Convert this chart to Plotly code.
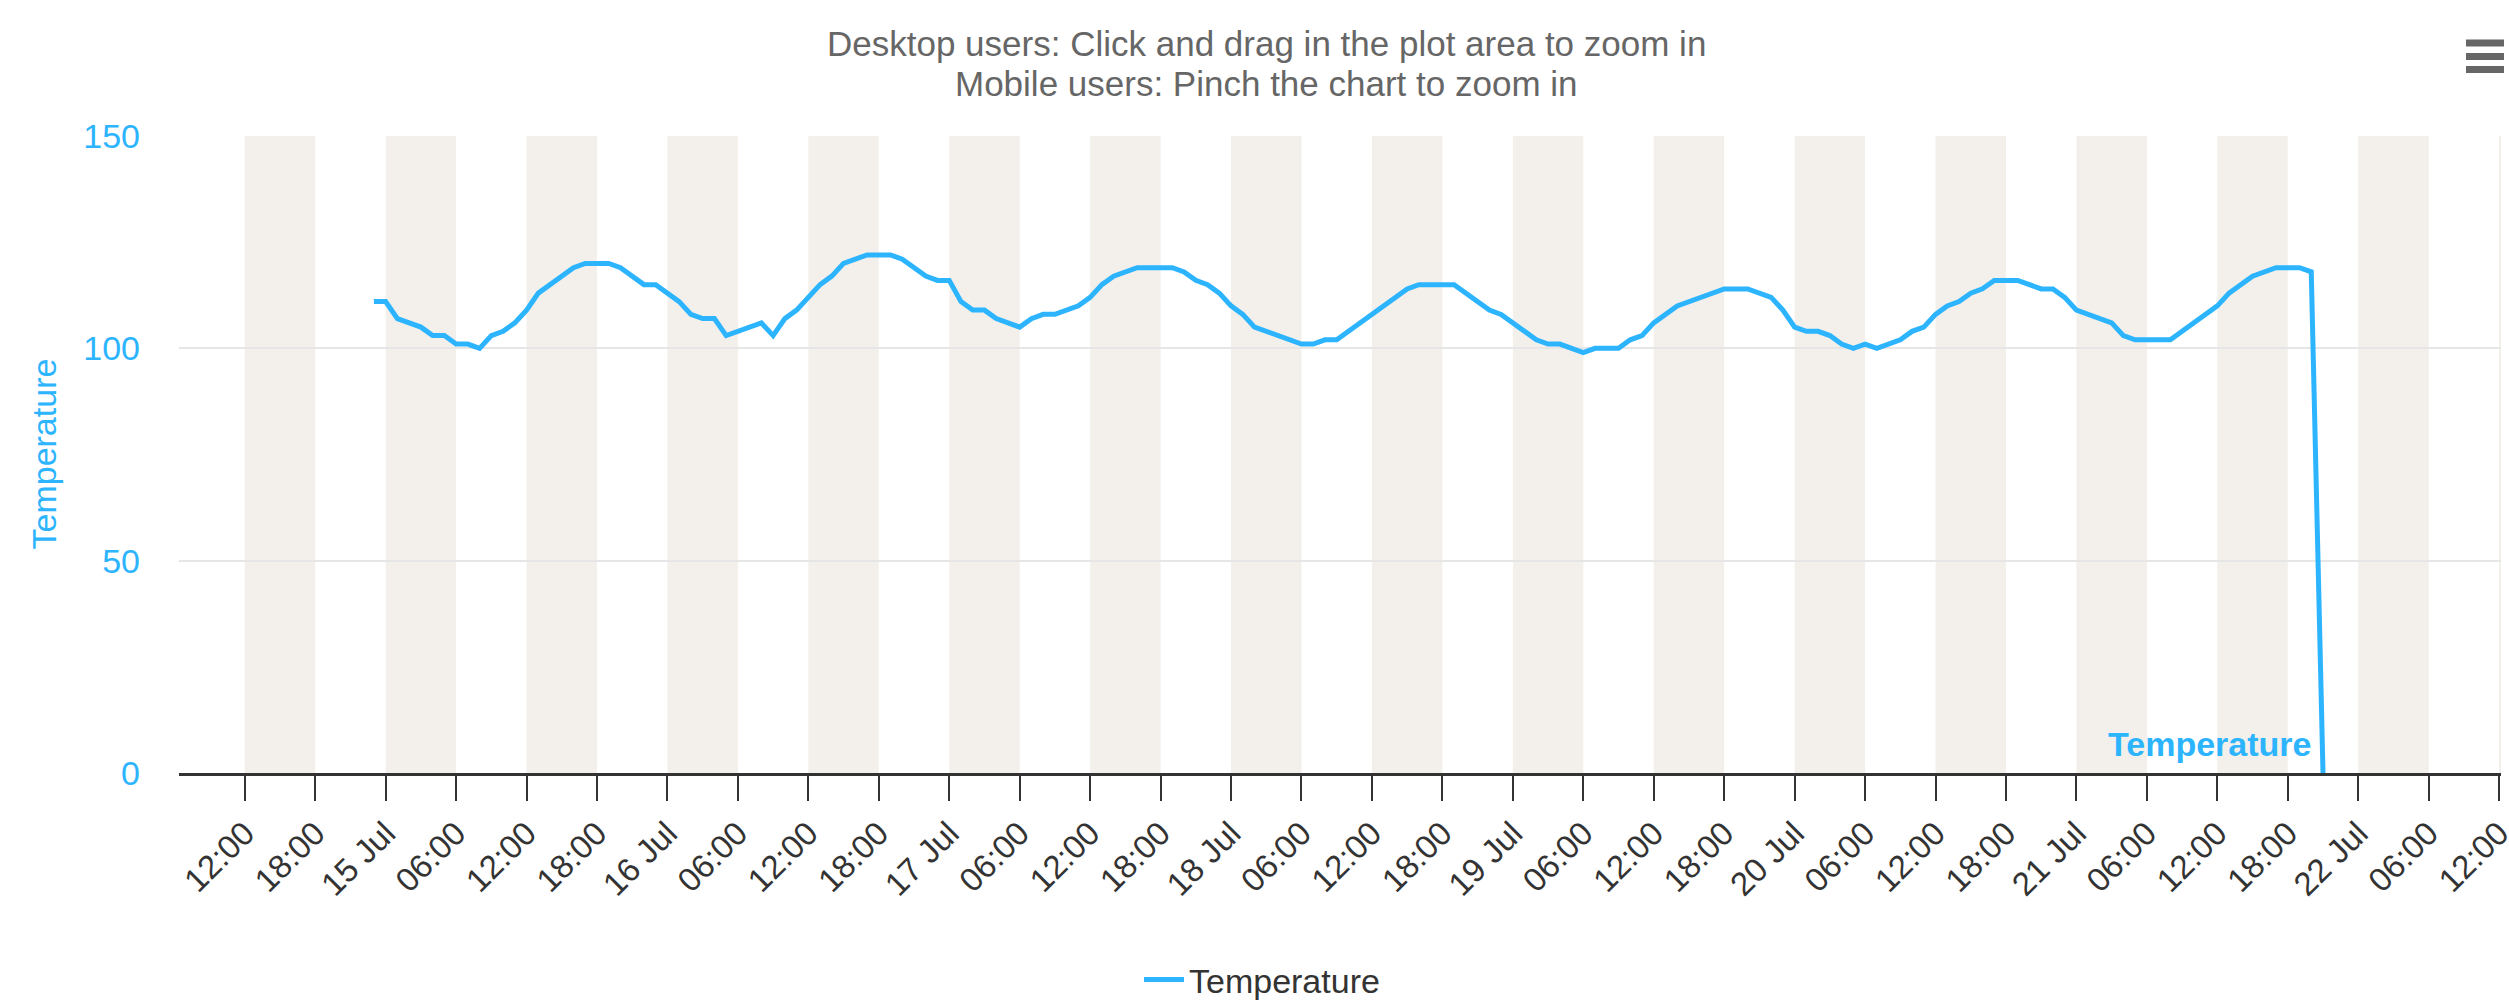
import plotly.graph_objects as go
import pandas as pd

# ---- data (hours relative to 15 Jul 00:00, temperature values) ----
hours = [-1, 0, 1, 3, 4, 5, 6, 7, 8, 9, 10, 11, 12, 13, 16, 17, 19, 20, 22, 23,
         25, 26, 27, 28, 29, 32, 33, 34, 35, 37, 38, 39, 41, 43, 44, 46, 47, 48, 49, 50,
         51, 52, 54, 55, 56, 57, 59, 60, 61, 62, 64, 67, 68, 69, 70, 71, 72, 73, 74, 78,
         79, 80, 81, 87, 88, 91, 94, 95, 98, 99, 100, 102, 103, 105, 106, 107, 108, 110, 114, 116,
         118, 119, 120, 121, 122, 123, 124, 125, 126, 127, 129, 130, 131, 132, 133, 134, 135, 136, 137, 139,
         141, 142, 143, 144, 147, 148, 149, 152, 156, 157, 159, 161, 163, 164, 165]
temperature = [111, 111, 107, 105, 103, 103, 101, 101, 100, 103, 104, 106, 109, 113, 119, 120, 120, 119, 115, 115,
               111, 108, 107, 107, 103, 106, 103, 107, 109, 115, 117, 120, 122, 122, 121, 117, 116, 116, 111, 109,
               109, 107, 105, 107, 108, 108, 110, 112, 115, 117, 119, 119, 118, 116, 115, 113, 110, 108, 105, 101,
               101, 102, 102, 114, 115, 115, 109, 108, 102, 101, 101, 99, 100, 100, 102, 103, 106, 110, 114, 114,
               112, 109, 105, 104, 104, 103, 101, 100, 101, 100, 102, 104, 105, 108, 110, 111, 113, 114, 116, 116,
               114, 114, 112, 109, 106, 103, 102, 102, 110, 113, 117, 119, 119, 118, 0]
series_name = "Temperature"
y_ticks = [0, 50, 100, 150]
title_lines = ["Desktop users: Click and drag in the plot area to zoom in",
               "Mobile users: Pinch the chart to zoom in"]

base = pd.Timestamp("2019-07-15 00:00")
times = [base + pd.Timedelta(hours=h) for h in hours]

BLUE = "#2db4ff"
BAND = "#f3f0eb"
FONT = "Liberation Sans, Arial, Helvetica, sans-serif"

W, H = 2509, 1004
PL, PR, PT, PB = 179, 2501, 136, 773          # plot area in page pixels
L, R, T, B = PL, W - PR, PT, H - PB
PW, PH = PR - PL, PB - PT

x_start = base - pd.Timedelta(hours=17.6)
x_end = base + pd.Timedelta(hours=180.16)

fig = go.Figure()
fig.add_trace(go.Scatter(x=times, y=temperature, mode="lines", name=series_name,
                         line=dict(color=BLUE, width=5)))

# plot bands: 00-06 and 12-18 every day
shapes = []
day = pd.Timestamp("2019-07-14 00:00")
while day < x_end:
    for sh in (0, 12):
        s = day + pd.Timedelta(hours=sh)
        e = s + pd.Timedelta(hours=6)
        shapes.append(dict(type="rect", xref="x", yref="paper", x0=s, x1=e, y0=0, y1=1,
                           fillcolor=BAND, line=dict(width=0), layer="below"))
    day += pd.Timedelta(days=1)

def px_x(x):
    return (x - PL) / PW
def px_y(y):
    return (PB - y) / PH

# hamburger icon
for yy in (43, 56.5, 69.5):
    shapes.append(dict(type="line", xref="paper", yref="paper",
                       x0=px_x(2466), x1=px_x(2504), y0=px_y(yy), y1=px_y(yy),
                       line=dict(color="#666666", width=7)))

# ticks every 6 h
tickvals = []
ticktext = []
t = pd.Timestamp("2019-07-14 12:00")
while t <= x_end:
    tickvals.append(t)
    ticktext.append(t.strftime("%-d %b") if t.hour == 0 else t.strftime("%H:%M"))
    t += pd.Timedelta(hours=6)

annotations = [
    dict(text=title_lines[0], xref="paper", yref="paper", x=px_x(1266), y=px_y(43),
         showarrow=False, font=dict(family=FONT, size=35, color="#666666"),
         xanchor="center", yanchor="middle"),
    dict(text=title_lines[1], xref="paper", yref="paper", x=px_x(1266), y=px_y(83),
         showarrow=False, font=dict(family=FONT, size=35, color="#666666"),
         xanchor="center", yanchor="middle"),
    dict(text=series_name, xref="paper", yref="paper", x=px_x(43), y=0.5, textangle=-90,
         showarrow=False, font=dict(family=FONT, size=34, color=BLUE),
         xanchor="center", yanchor="middle"),
    dict(text="<b>" + series_name + "</b>", x=times[-1], y=0, xref="x", yref="y",
         xanchor="right", yanchor="bottom", xshift=-10, yshift=8, showarrow=False,
         font=dict(family=FONT, size=34, color=BLUE)),
]

fig.update_layout(
    width=W, height=H,
    margin=dict(l=L, r=R, t=T, b=B, pad=0, autoexpand=False),
    paper_bgcolor="white", plot_bgcolor="white",
    font=dict(family=FONT, color="#333333"),
    shapes=shapes, annotations=annotations,
    showlegend=True,
    legend=dict(orientation="h", xref="paper", x=px_x(1262), xanchor="center",
                yref="container", y=(H - 980) / H, yanchor="middle",
                font=dict(family=FONT, size=34, color="#333333"), itemwidth=40),
    xaxis=dict(type="date", range=[x_start, x_end], showgrid=False, zeroline=False,
               showline=True, linecolor="#333333", linewidth=2.5,
               ticks="outside", ticklen=25, tickwidth=2, tickcolor="#333333",
               tickvals=tickvals, ticktext=ticktext, tickangle=-45, ticklabeloverflow="allow",
               automargin=False,
               tickfont=dict(family=FONT, size=33, color="#333333")),
    yaxis=dict(range=[0, 150], tickvals=y_ticks, showgrid=True, gridcolor="#e6e6e6", gridwidth=2,
               zeroline=False, showline=False, ticks="", ticklabelstandoff=38, automargin=False,
               tickfont=dict(family=FONT, size=34, color=BLUE)),
)

fig.write_html("out.html", config={"displayModeBar": False},
               post_script="document.body.style.margin='0';document.body.style.overflow='hidden';")
